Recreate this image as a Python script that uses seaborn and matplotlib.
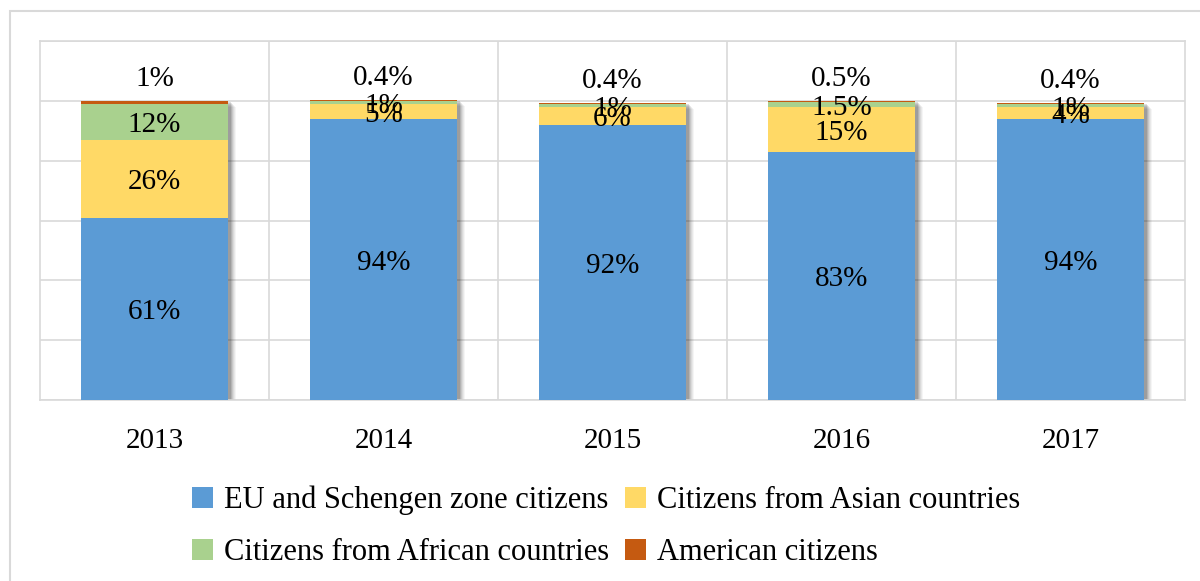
import numpy as np
import pandas as pd
import matplotlib
matplotlib.use("Agg")
import matplotlib.pyplot as plt
import matplotlib.transforms as mtransforms
from matplotlib.patches import Rectangle, Patch
import seaborn as sns

years = ["2013", "2014", "2015", "2016", "2017"]
series = [
    "EU and Schengen zone citizens",
    "Citizens from Asian countries",
    "Citizens from African countries",
    "American citizens",
]
eu = [61, 94, 92, 83, 94]
asian = [26, 5, 6, 15, 4]
african = [12, 1, 1, 1.5, 1]
american = [1, 0.4, 0.4, 0.5, 0.4]
colors = ["#5B9BD5", "#FFD966", "#A9D18E", "#C55A11"]

values = [eu, asian, african, american]

sns.set_theme(style="white")
plt.rcParams["font.family"] = ["Liberation Serif", "DejaVu Serif"]
plt.rcParams["text.color"] = "black"
plt.rcParams["xtick.color"] = "black"

rows = []
for name, vals in zip(series, values):
    for i, v in enumerate(vals):
        rows.append({"pos": i, "series": name, "share": v})
df = pd.DataFrame(rows)

fig = plt.figure(figsize=(12, 5.81), dpi=100)
ax = fig.add_axes([40 / 1200, 1 - 400 / 581, 1145 / 1200, 359 / 581])

# seaborn stacks the last hue level at the bottom, so reverse the order
sns.histplot(
    data=df, x="pos", weights="share", hue="series",
    hue_order=series[::-1], palette=dict(zip(series, colors)),
    multiple="stack", discrete=True, shrink=0.64,
    linewidth=0, alpha=1, legend=False, ax=ax, zorder=3,
)

# soft drop shadow behind each full stacked bar
totals = np.sum(values, axis=0)
bar_w = 0.64
shadow_layers = [(8, -6, 0.04), (7, -5, 0.05), (6, -4, 0.06), (5, -3, 0.08), (4, -2, 0.10), (3, -1, 0.12)]
for i, tot in enumerate(totals):
    for dx, dy, a in shadow_layers:
        tr = mtransforms.offset_copy(ax.transData, fig=fig, x=dx, y=dy, units="dots")
        ax.add_patch(Rectangle((i - bar_w / 2, 0), bar_w, tot, transform=tr,
                               facecolor="black", alpha=a, linewidth=0, zorder=2))

# segment labels (centred in each segment, the top series above the bar)
label_shift = -1.2
cum = np.zeros(len(years))
for s, vals in enumerate(values):
    vals = np.asarray(vals, dtype=float)
    for i, v in enumerate(vals):
        txt = f"{v:g}%"
        if s == len(values) - 1:
            y = cum[i] + v + 7.3
        else:
            y = cum[i] + v / 2 + label_shift
        ax.text(i, y, txt, ha="center", va="center", fontsize=21, color="black", zorder=5)
    cum += vals

ax.set_xlim(-0.5, len(years) - 0.5)
ax.set_ylim(0, 120)
ax.set_yticks(np.arange(0, 121, 20))
ax.set_yticklabels([])
ax.set_xticks(range(len(years)))
ax.set_xticklabels(years, fontsize=21, color="black")
ax.set_xticks(np.arange(0.5, len(years) - 0.5, 1), minor=True)
ax.tick_params(axis="both", which="both", length=0)
ax.tick_params(axis="x", pad=20)
ax.set_xlabel("")
ax.set_ylabel("")
ax.grid(True, axis="y", which="major", color="#D9D9D9", linewidth=1.2, zorder=0)
ax.grid(True, axis="x", which="minor", color="#D9D9D9", linewidth=1.2, zorder=0)
ax.grid(False, axis="x", which="major")
ax.set_axisbelow(True)
for sp in ax.spines.values():
    sp.set_visible(True)
    sp.set_color("#D9D9D9")
    sp.set_linewidth(1.2)

# outer chart frame
fig.patches.append(Rectangle((10 / 1200, -0.1), 1.2, 1 - 11 / 581 + 0.1,
                             transform=fig.transFigure, fill=False,
                             edgecolor="#D9D9D9", linewidth=1.5, zorder=0))

handles = [Patch(facecolor=c, edgecolor="none") for c in colors]
order = [0, 2, 1, 3]
leg = fig.legend([handles[k] for k in order], [series[k] for k in order],
                 ncol=2, loc="center", bbox_to_anchor=(0.505, 0.094),
                 frameon=False, fontsize=22, handlelength=0.7, handleheight=0.7,
                 handletextpad=0.35, columnspacing=0.5, labelspacing=0.75)
for t in leg.get_texts():
    t.set_color("black")

fig.savefig("out.png", dpi=100, facecolor="white")
